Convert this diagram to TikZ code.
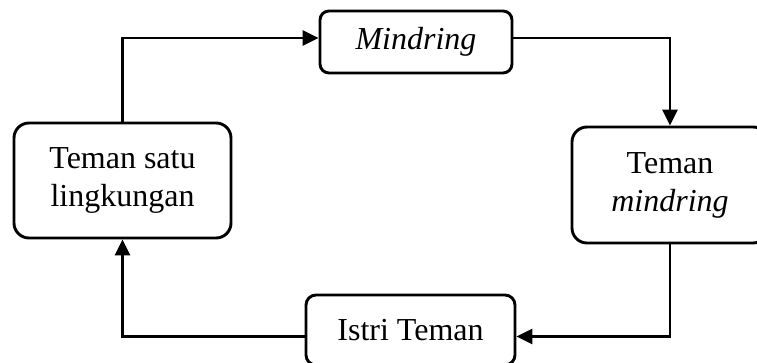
\documentclass[tikz,border=0pt]{standalone}
\usepackage{fontspec}
\setmainfont{Liberation Serif}
\usetikzlibrary{arrows.meta}
\begin{document}
\begin{tikzpicture}[x=1pt,y=-1pt,
  box/.style={draw, line width=2.9pt, align=center, inner sep=0pt,
    font=\fontsize{32}{38}\selectfont},
  arr/.style={line width=2.9pt, -{Triangle[length=16pt,width=15pt]}}]
\useasboundingbox (0,0) rectangle (757,363);
\node[box, rounded corners=9pt, minimum width=192pt, minimum height=62pt] (mind) at (416,42) {\raisebox{-2pt}{\itshape Mindring}};
\node[box, rounded corners=15pt, minimum width=196pt, minimum height=116pt] (tm) at (670,185) {Teman\\\itshape mindring};
\node[box, rounded corners=15pt, minimum width=217pt, minimum height=115pt] (ts) at (122.5,180.5) {Teman satu\\lingkungan};
\node[box, rounded corners=10pt, minimum width=209pt, minimum height=70pt] (it) at (410.5,330) {Istri Teman};
\draw[arr] (ts.north) |- ([yshift=4pt]mind.west);
\draw[arr] ([yshift=4pt]mind.east) -| (tm.north);
\draw[arr] (tm.south) |- ([yshift=-6.5pt]it.east);
\draw[arr] ([yshift=-6.5pt]it.west) -| (ts.south);
\end{tikzpicture}
\end{document}
